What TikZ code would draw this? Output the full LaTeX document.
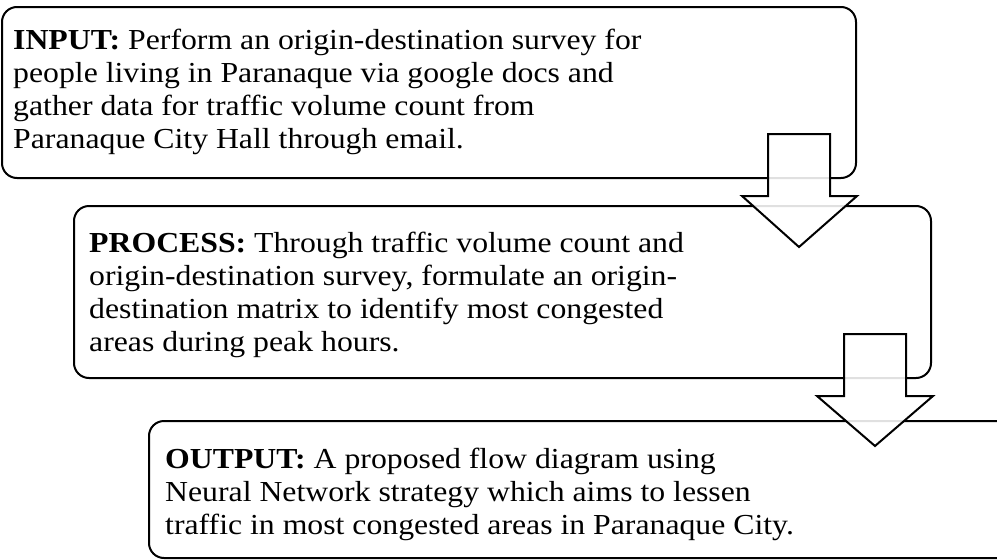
\documentclass[tikz,border=0pt]{standalone}
\usepackage{fontspec}
\setmainfont{Liberation Serif}
\begin{document}
\begin{tikzpicture}[x=1pt,y=-1pt,
  stagebox/.style={draw=black,line width=2pt,rounded corners=15pt,fill=white,anchor=north west,inner sep=0pt},
  stagetext/.style={anchor=base west,align=left,inner sep=0pt,xscale=1.095,transform shape,
    font=\fontsize{29}{32.8}\selectfont},
  downarrow/.style={draw=black,line width=2pt,fill=white,fill opacity=0.88,line join=miter}]
\useasboundingbox (0,0) rectangle (997,560);
\clip (0,0) rectangle (997,560);

% the three stages
\node[stagebox,minimum width=854pt,minimum height=171pt] (input) at (1,6) {};
\node[stagebox,minimum width=857pt,minimum height=172pt] (process) at (73,205) {};
\node[stagebox,minimum width=870pt,minimum height=137pt] (output) at (148,420) {};

% block arrows between the stages
\draw[downarrow] (768,134) -- (830,134) -- (830,196) -- (857,196) -- (799,247)
  -- (742,196) -- (768,196) -- cycle;
\draw[downarrow] (844,334) -- (906,334) -- (906,396) -- (933,396) -- (875,446)
  -- (817,396) -- (844,396) -- cycle;

% texts, placed by the baseline of their last line
\node[stagetext] (inputtext) at (13,148) {\textbf{INPUT:} Perform an origin-destination survey for\\
people living in Paranaque via google docs and\\
gather data for traffic volume count from\\
Paranaque City Hall through email.};
\node[stagetext] (processtext) at (89,351) {\textbf{PROCESS:} Through traffic volume count and\\
origin-destination survey, formulate an origin-\\
destination matrix to identify most congested\\
areas during peak hours.};
\node[stagetext] (outputtext) at (165,534) {\textbf{OUTPUT:} A proposed flow diagram using\\
Neural Network strategy which aims to lessen\\
traffic in most congested areas in Paranaque City.};
\end{tikzpicture}
\end{document}
